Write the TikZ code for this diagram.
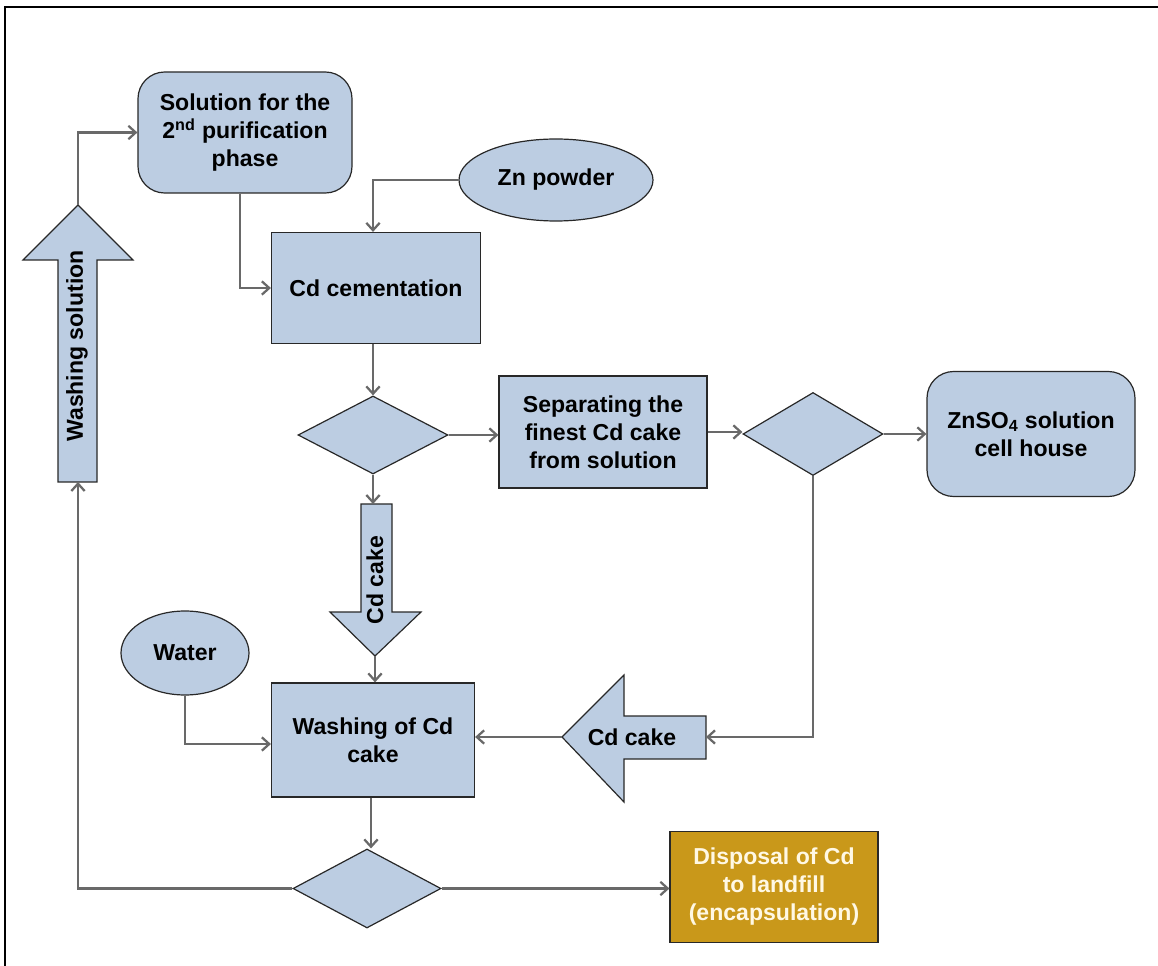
\documentclass[tikz,border=0pt]{standalone}
\usepackage{fontspec}
\setmainfont{Liberation Sans}
\usetikzlibrary{shapes.geometric,arrows.meta}
\definecolor{boxblue}{RGB}{188,205,226}
\definecolor{edgecol}{RGB}{40,40,40}
\definecolor{conncol}{RGB}{105,105,105}
\definecolor{goldcol}{RGB}{201,152,26}
\definecolor{creamcol}{RGB}{255,248,228}
\begin{document}
\begin{tikzpicture}[x=0.75pt,y=-0.75pt,
  font=\fontsize{17.3}{21}\selectfont\bfseries,
  base/.style={draw=edgecol,line width=0.9pt,fill=boxblue,align=center,inner sep=0pt},
  proc/.style={base,rectangle},
  rproc/.style={base,rectangle,rounded corners=20pt},
  term/.style={base,ellipse},
  dec/.style={base,diamond},
  flow/.style={draw=conncol,line width=1.7pt,-{Straight Barb[length=5.5pt,width=10pt]}},
  blockarrow/.style={draw=edgecol,line width=0.9pt,fill=boxblue,line join=miter},
  lbl/.style={inner sep=0pt,align=center}]
\useasboundingbox (0,0) rectangle (1158,966);
\draw[line width=2.2pt] (5,966) -- (5,7) -- (1158,7);

% process nodes
\node[rproc,minimum width=160.5pt,minimum height=90.75pt] (sol) at (245,132.5) {Solution for the\\2\textsuperscript{nd} purification\\phase};
\node[term,minimum width=145.5pt,minimum height=61.5pt] (zn) at (556,180) {Zn powder};
\node[proc,minimum width=156.75pt,minimum height=83.25pt] (cem) at (376,288) {Cd cementation};
\node[dec,minimum width=112.5pt,minimum height=58.5pt] (d1) at (373,435) {};
\node[proc,minimum width=156pt,minimum height=84pt] (sep) at (603,432) {Separating the\\finest Cd cake\\from solution};
\node[dec,minimum width=105pt,minimum height=62.25pt] (d2) at (813,434) {};
\node[rproc,minimum width=156pt,minimum height=93.75pt] (zns) at (1031,434) {ZnSO\textsubscript{4} solution\\cell house};
\node[term,minimum width=96pt,minimum height=63pt] (water) at (185,653) {Water};
\node[proc,minimum width=152.25pt,minimum height=85.5pt] (wash) at (373,740) {Washing of Cd\\cake};
\node[dec,minimum width=111pt,minimum height=59.25pt] (d3) at (367,888.5) {};
\node[proc,fill=goldcol,text=creamcol,minimum width=156pt,minimum height=83.25pt] (disp) at (774,887) {Disposal of Cd\\to landfill\\(encapsulation)};

% block arrow: washing solution (up)
\draw[blockarrow] (58,482) -- (58,260) -- (23,260) -- (78,205) -- (133,260) -- (97,260) -- (97,482) -- cycle;
\coordinate (wsTip) at (78,205);
\coordinate (wsBot) at (78,482);
\node[lbl,rotate=90] (wslab) at (77,346) {Washing solution};

% block arrow: Cd cake (down)
\draw[blockarrow] (361,504) -- (361,612) -- (330,612) -- (375,656) -- (421,612) -- (392,612) -- (392,504) -- cycle;
\coordinate (dnTop) at (375,504);
\coordinate (dnTip) at (375,656);
\node[lbl,rotate=90] (dnlab) at (375,580) {Cd cake};

% block arrow: Cd cake (left)
\draw[blockarrow] (706,716) -- (624,716) -- (624,675) -- (562,737) -- (624,802) -- (624,759) -- (706,759) -- cycle;
\coordinate (lfTip) at (562,737);
\coordinate (lfEnd) at (706,737);
\node[lbl] (lflab) at (632,737) {Cd cake};

% connectors
\draw[flow] (wsTip) |- (sol.west);
\draw[flow] ([xshift=-3.75pt]sol.south) |- (cem.west);
\draw[flow] (zn.west) -| ([xshift=-2.25pt]cem.north);
\draw[flow] ([xshift=-2.25pt]cem.south) -- (d1.north);
\draw[flow] (d1.east) -- (d1.east -| sep.west);
\draw[flow] (sep.east) -- (sep.east -| d2.west);
\draw[flow] (d2.east) -- (d2.east -| zns.west);
\draw[flow] (d1.south) -- (d1.south |- dnTop);
\draw[flow] (dnTip) -- (dnTip |- wash.north);
\draw[flow] (water.south) |- ([yshift=-3pt]wash.west);
\draw[flow] (d2.south) |- (lfEnd);
\draw[flow] (lfTip) -- (lfTip -| wash.east);
\draw[flow] ([xshift=-1.5pt]wash.south) -- ([xshift=-1.5pt]wash.south |- d3.north);
\draw[flow] (d3.west) -| (wsBot);
\draw[flow] (d3.east) -- (d3.east -| disp.west);
\end{tikzpicture}
\end{document}
